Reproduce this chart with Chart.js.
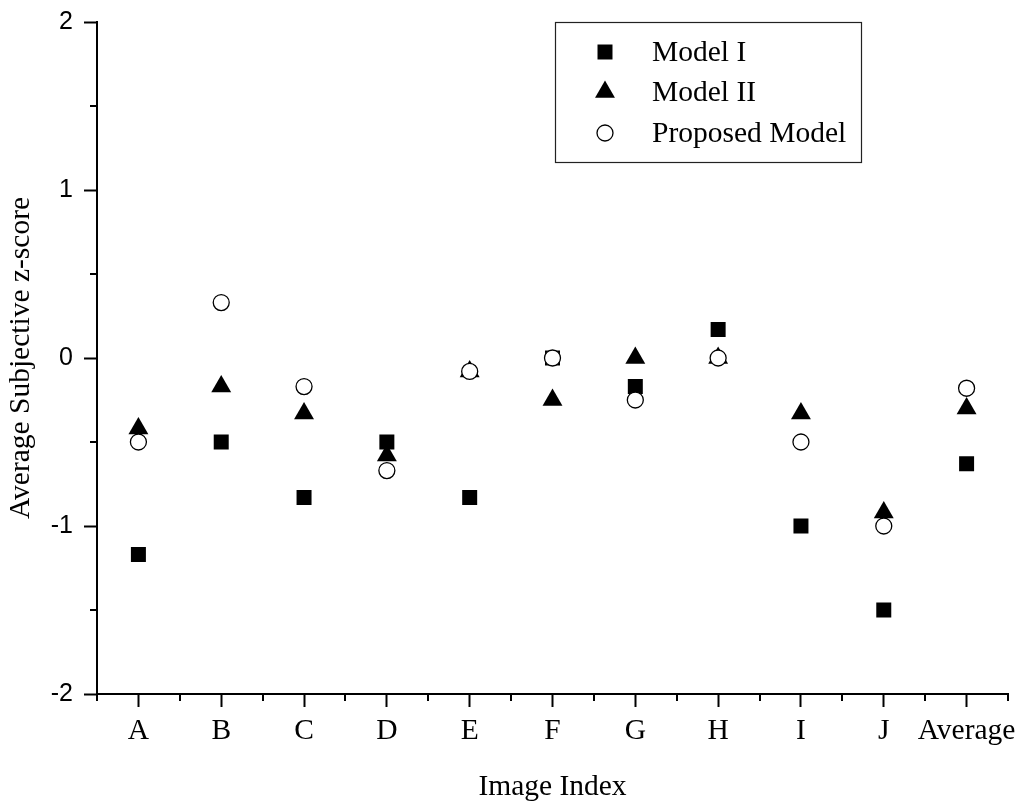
<!DOCTYPE html>
<html>
<head>
<meta charset="utf-8">
<script src="https://cdn.jsdelivr.net/npm/chart.js@4.4.1/dist/chart.umd.min.js"></script>
<style>
  html, body { margin: 0; padding: 0; background: #ffffff; }
  #wrap { width: 1027px; height: 805px; }
</style>
</head>
<body>
<div id="wrap"><canvas id="c" width="1027" height="805"></canvas></div>
<script>
// ---- data ----
const categories = ['A', 'B', 'C', 'D', 'E', 'F', 'G', 'H', 'I', 'J', 'Average'];
const modelI     = [-1.17, -0.50, -0.83, -0.50, -0.83, 0.00, -0.17, 0.17, -1.00, -1.50, -0.63];
const modelII    = [-0.42, -0.17, -0.33, -0.58, -0.08, -0.25, 0.00, 0.00, -0.33, -0.92, -0.30];
const proposed   = [-0.50, 0.33, -0.17, -0.67, -0.08, 0.00, -0.25, 0.00, -0.50, -1.00, -0.18];
const yTicks     = [-2, -1, 0, 1, 2];
const yMinorTicks = [-1.5, -0.5, 0.5, 1.5];
const seriesNames = ['Model I', 'Model II', 'Proposed Model'];
const xTitle = 'Image Index';
const yTitle = 'Average Subjective z-score';

const SERIF = '"Liberation Serif", "Times New Roman", serif';
const SANS = '"Liberation Sans", Arial, sans-serif';
const SERIF_SIZE = 29.5;

// minor ticks plugin (axis decoration)
const minorTicks = {
  id: 'minorTicks',
  afterDraw(chart) {
    const ctx = chart.ctx;
    const xs = chart.scales.x, ys = chart.scales.y;
    ctx.save();
    ctx.strokeStyle = '#000';
    ctx.lineWidth = 2;
    ctx.lineCap = 'butt';
    const yEdge = ys.right;
    yMinorTicks.forEach(v => {
      const py = Math.round(ys.getPixelForValue(v));
      ctx.beginPath();
      ctx.moveTo(yEdge, py);
      ctx.lineTo(yEdge - 7, py);
      ctx.stroke();
    });
    const xEdge = xs.top;
    for (let i = 0; i <= categories.length; i++) {
      const px = Math.round(xs.getPixelForValue(i - 0.5));
      ctx.beginPath();
      ctx.moveTo(px, xEdge);
      ctx.lineTo(px, xEdge + 7);
      ctx.stroke();
    }
    ctx.restore();
  }
};

// boxed legend plugin
const boxLegend = {
  id: 'boxLegend',
  afterDraw(chart) {
    const ctx = chart.ctx;
    const ca = chart.chartArea;
    const bx = ca.left + 458, by = ca.top, bw = 306, bh = 140;
    ctx.save();
    ctx.strokeStyle = '#222';
    ctx.lineWidth = 1.2;
    ctx.strokeRect(bx + 0.5, by + 0.5, bw, bh);
    const rows = [30, 70, 111];
    [0, 1, 2].forEach((di, k) => {
      const ds = chart.data.datasets[di];
      const cx = bx + 50, cy = by + rows[k];
      const opts = {
        pointStyle: ds.pointStyle,
        radius: ds.pointRadius,
        rotation: 0,
        borderWidth: ds.borderWidth
      };
      ctx.fillStyle = ds.backgroundColor;
      ctx.strokeStyle = ds.borderColor;
      ctx.lineWidth = ds.borderWidth;
      if (Chart.helpers && Chart.helpers.drawPoint) {
        Chart.helpers.drawPoint(ctx, opts, cx, cy);
      }
      ctx.fillStyle = '#000';
      ctx.font = SERIF_SIZE + 'px ' + SERIF;
      ctx.textAlign = 'left';
      ctx.textBaseline = 'middle';
      ctx.fillText(ds.label, bx + 97, cy + 1);
    });
    ctx.restore();
  }
};

new Chart(document.getElementById('c'), {
  type: 'line',
  data: {
    labels: categories,
    datasets: [
      { label: seriesNames[0], data: modelI, showLine: false, pointStyle: 'rect', pointRadius: 10.6,
        backgroundColor: '#000', borderColor: '#000', borderWidth: 0, order: 2 },
      { label: seriesNames[1], data: modelII, showLine: false, pointStyle: 'triangle', pointRadius: 11.5,
        backgroundColor: '#000', borderColor: '#000', borderWidth: 0, order: 1 },
      { label: seriesNames[2], data: proposed, showLine: false, pointStyle: 'circle', pointRadius: 8,
        backgroundColor: '#fff', borderColor: '#000', borderWidth: 1.3, order: 0 }
    ]
  },
  options: {
    responsive: false,
    animation: false,
    devicePixelRatio: 1,
    layout: { padding: { top: 22, right: 19, left: 0, bottom: 0 } },
    plugins: { legend: { display: false }, tooltip: { enabled: false } },
    elements: { point: { hoverRadius: 0 } },
    scales: {
      x: {
        type: 'category',
        offset: true,
        grid: { display: true, drawOnChartArea: false, drawTicks: true, tickLength: 13, tickWidth: 2, tickColor: '#000', offset: false },
        border: { display: true, color: '#000', width: 2 },
        ticks: { color: '#000', font: { family: SERIF, size: SERIF_SIZE }, padding: 7, maxRotation: 0, autoSkip: false },
        title: { display: true, text: xTitle, color: '#000', font: { family: SERIF, size: SERIF_SIZE }, padding: { top: 0, bottom: 0 } },
        afterFit(s) { s.height = 111; s.paddingLeft = 0; s.paddingRight = 0; }
      },
      y: {
        type: 'linear',
        min: -2, max: 2,
        afterBuildTicks(s) { s.ticks = yTicks.map(v => ({ value: v })); },
        grid: { display: true, drawOnChartArea: false, drawTicks: true, tickLength: 13, tickWidth: 2, tickColor: '#000' },
        border: { display: true, color: '#000', width: 2 },
        ticks: { color: '#000', font: { family: SANS, size: 25 }, padding: 11, callback: v => String(v) },
        title: { display: true, text: yTitle, color: '#000', font: { family: SERIF, size: SERIF_SIZE }, padding: { top: 4, bottom: 0 } },
        afterFit(s) { s.width = 97; s.paddingTop = 0; s.paddingBottom = 0; }
      }
    }
  },
  plugins: [minorTicks, boxLegend]
});
</script>
</body>
</html>
